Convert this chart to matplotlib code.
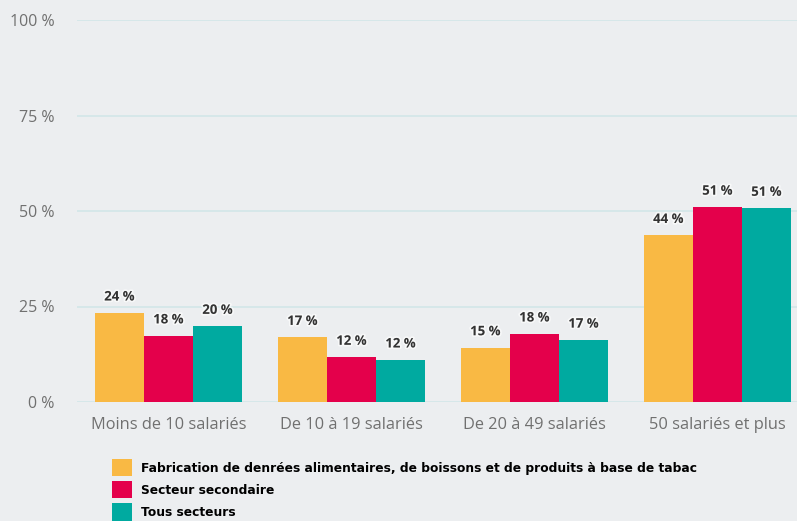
import matplotlib
matplotlib.use("Agg")
import matplotlib.pyplot as plt
import matplotlib.patheffects as pe
import numpy as np

categories = ["Moins de 10 salariés", "De 10 à 19 salariés", "De 20 à 49 salariés", "50 salariés et plus"]
series_names = ["Fabrication de denrées alimentaires, de boissons et de produits à base de tabac",
                "Secteur secondaire", "Tous secteurs"]
fabrication = [23.3, 16.9, 14.2, 43.6]
secondaire = [17.3, 11.7, 17.8, 51.0]
tous = [19.8, 11.0, 16.2, 50.7]
fabrication_lbl = ["24 %", "17 %", "15 %", "44 %"]
secondaire_lbl = ["18 %", "12 %", "18 %", "51 %"]
tous_lbl = ["20 %", "12 %", "17 %", "51 %"]
yticks = [0, 25, 50, 75, 100]
ytick_labels = ["0 %", "25 %", "50 %", "75 %", "100 %"]

colors = ["#f9b944", "#e4004b", "#00aaa0"]
bg = "#eceef0"

W, H = 797, 521
fig = plt.figure(figsize=(W / 100, H / 100), dpi=100, facecolor=bg)
ax = fig.add_axes([77 / W, (H - 402) / H, (W - 77) / W, 382 / H], facecolor=bg)

x = np.arange(len(categories))
bw = 0.268
series = [fabrication, secondaire, tous]
labels = [fabrication_lbl, secondaire_lbl, tous_lbl]
bars = []
for i, (vals, lbls) in enumerate(zip(series, labels)):
    b = ax.bar(x + (i - 1) * bw, vals, width=bw, color=colors[i], zorder=3,
               label=series_names[i], linewidth=0)
    bars.append(b)
    for xi, v, t in zip(x + (i - 1) * bw, vals, lbls):
        ax.annotate(t, (xi, v), xytext=(0, 9), textcoords="offset points",
                    ha="center", va="baseline", fontsize=9.5, fontweight="bold",
                    color="#333333", family="Open Sans",
                    path_effects=[pe.withStroke(linewidth=2.5, foreground="white", alpha=0.6)],
                    zorder=5)

ax.set_xlim(-0.5, (W - 77) / 183 - 0.5)
ax.set_ylim(0, 100)
ax.set_yticks(yticks)
ax.set_yticklabels(ytick_labels)
ax.set_xticks(x)
ax.set_xticklabels(categories)
for s in ax.spines.values():
    s.set_visible(False)
ax.tick_params(axis="both", length=0, labelsize=11.5, labelcolor="#707070")
ax.tick_params(axis="x", labelsize=11.8)
ax.tick_params(axis="y", pad=16)
ax.tick_params(axis="x", pad=11)
for lab in ax.get_xticklabels() + ax.get_yticklabels():
    lab.set_family("Open Sans")
ax.grid(axis="y", color="#d2e6e8", linewidth=1.2, zorder=0)
ax.set_axisbelow(True)

fig.legend(handles=bars, labels=series_names, loc="upper left",
           bbox_to_anchor=(112 / W, 1 - 459 / H), frameon=False,
           prop={"family": "DejaVu Sans", "weight": "bold", "size": 8.8},
           handlelength=1.65, handleheight=1.8, labelspacing=0.4,
           handletextpad=0.72, borderaxespad=0, borderpad=0)

fig.savefig("out.png", dpi=100, facecolor=bg)
